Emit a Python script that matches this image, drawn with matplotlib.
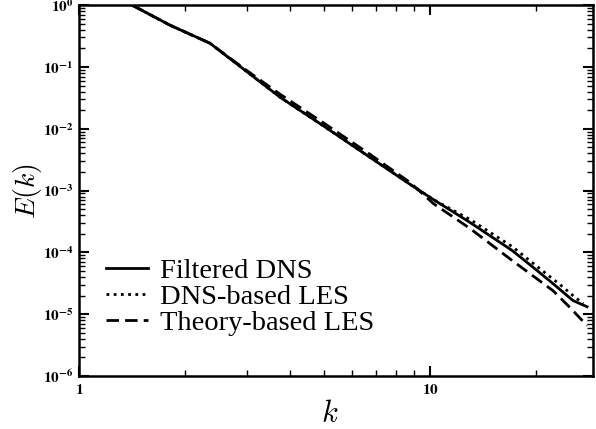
import matplotlib
matplotlib.use("Agg")
import matplotlib.pyplot as plt
from matplotlib.ticker import LogLocator, FixedLocator, FuncFormatter, NullFormatter
import numpy as np

# wavenumbers
k_vals = [1.416, 1.816, 2.36, 2.97, 3.74, 4.99, 6.745, 8.77, 10.21,
          13.0, 17.14, 20.18, 22.39, 25.53, 27.99]

# Filtered DNS (solid)
e_filtered = [1.0, 0.474, 0.242, 0.0885, 0.0323, 0.01094, 3.44e-3, 1.26e-3, 7.18e-4,
              3.04e-4, 1.07e-4, 5.07e-5, 3.12e-5, 1.66e-5, 1.32e-5]

# DNS-based LES (dotted)
k_dns_les = [1.416, 1.816, 2.36, 2.97, 3.74, 4.99, 6.745, 8.77, 10.21,
             13.0, 17.14, 20.18, 23.44, 25.53, 27.29]
e_dns_les = [1.0, 0.474, 0.242, 0.0885, 0.0323, 0.01094, 3.44e-3, 1.26e-3, 7.18e-4,
             3.40e-4, 1.24e-4, 5.89e-5, 3.01e-5, 2.0e-5, 1.48e-5]

# Theory-based LES (dashed)
k_theory = [1.416, 1.816, 2.36, 2.97, 3.74, 4.99, 6.745, 8.77, 10.21,
            13.0, 17.14, 22.39, 25.06, 27.99]
e_theory = [1.0, 0.474, 0.242, 0.0918, 0.0361, 0.01225, 3.85e-3, 1.35e-3, 6.18e-4,
            2.43e-4, 7.36e-5, 2.40e-5, 1.27e-5, 6.52e-6]

labels = ["Filtered DNS", "DNS-based LES", "Theory-based LES"]

fig = plt.figure(figsize=(5.96, 4.29), dpi=100)
ax = fig.add_axes([0.1326, 0.1235, 0.8624, 0.8645])

ax.plot(k_vals, e_filtered, color="black", lw=2.0, ls="-", label=labels[0])
ax.plot(k_dns_les, e_dns_les, color="black", lw=2.0, ls=(0, (1, 1.6)), label=labels[1])
ax.plot(k_theory, e_theory, color="black", lw=2.0, ls=(0, (4.5, 2.2)), label=labels[2])

ax.set_xscale("log")
ax.set_yscale("log")
ax.set_xlim(1, 29.1)
ax.set_ylim(1e-6, 1)

ax.xaxis.set_major_locator(FixedLocator([1, 10]))
ax.xaxis.set_minor_locator(LogLocator(base=10, subs=np.arange(2, 10), numticks=20))
ax.xaxis.set_minor_formatter(NullFormatter())
ax.xaxis.set_major_formatter(FuncFormatter(lambda v, p: r"$\mathbf{%d}$" % round(v)))

ax.yaxis.set_major_locator(LogLocator(base=10, numticks=20))
ax.yaxis.set_minor_locator(LogLocator(base=10, subs=np.arange(2, 10), numticks=20))
ax.yaxis.set_minor_formatter(NullFormatter())
ax.yaxis.set_major_formatter(FuncFormatter(
    lambda v, p: r"$\mathbf{10^{%d}}$" % round(np.log10(v))))

ax.tick_params(which="both", direction="in", top=True, right=True, colors="black")
ax.tick_params(which="major", length=7, width=1.5, labelsize=11, pad=4)
ax.tick_params(which="minor", length=4, width=1.0)
for lab in ax.get_xticklabels() + ax.get_yticklabels():
    lab.set_math_fontfamily("stix")

for sp in ax.spines.values():
    sp.set_linewidth(1.8)

ax.set_xlabel(r"$k$", fontsize=22, math_fontfamily="cm")
ax.set_ylabel(r"$E(k)$", fontsize=20, math_fontfamily="cm")
ax.xaxis.set_label_coords(0.488, -0.062)
ax.yaxis.set_label_coords(-0.068, 0.5)

leg = ax.legend(loc="upper left", bbox_to_anchor=(0.052, 0.318), frameon=False,
                prop={"family": "Liberation Serif", "size": 20.5},
                handlelength=1.5, handletextpad=0.4, labelspacing=0.0,
                borderpad=0, borderaxespad=0)

fig.savefig("out.png", dpi=100)
